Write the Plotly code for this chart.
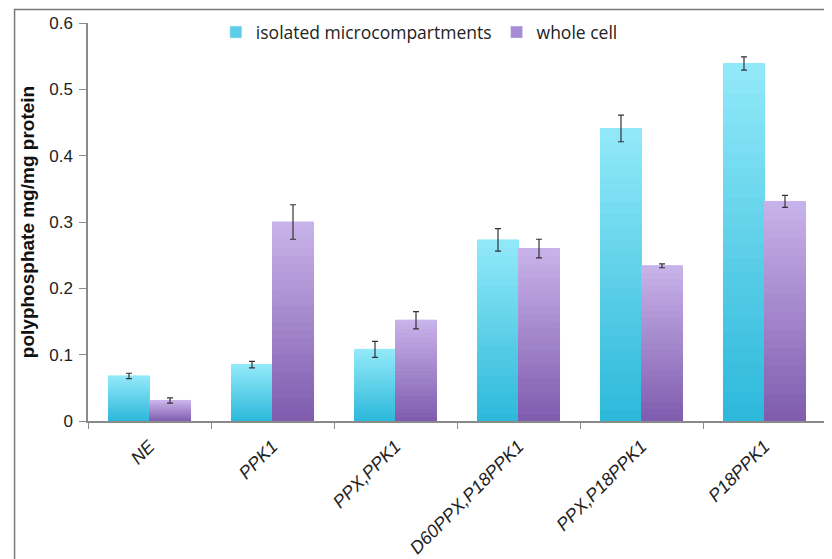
import plotly.graph_objects as go

categories = ["NE", "PPK1", "PPX,PPK1", "D60PPX,P18PPK1", "PPX,P18PPK1", "P18PPK1"]
isolated = [0.068, 0.085, 0.108, 0.273, 0.441, 0.539]
isolated_err = [0.004, 0.005, 0.012, 0.017, 0.020, 0.010]
whole = [0.031, 0.300, 0.152, 0.260, 0.234, 0.331]
whole_err = [0.004, 0.026, 0.013, 0.014, 0.003, 0.009]

series = [
    ("isolated microcompartments", isolated, isolated_err, (44, 184, 218), (146, 233, 249), "#5ccfe8"),
    ("whole cell", whole, whole_err, (126, 91, 174), (201, 179, 234), "#a98ad6"),
]

N = 24
fig = go.Figure()
for gi, (name, vals, errs, c_bot, c_top, legc) in enumerate(series):
    for i in range(N):
        t = (i + 0.5) / N
        col = "rgb(%d,%d,%d)" % tuple(round(c_bot[k] + (c_top[k] - c_bot[k]) * t) for k in range(3))
        fig.add_trace(go.Bar(
            x=categories,
            y=[v / N for v in vals],
            base=[v * i / N for v in vals],
            offsetgroup=str(gi),
            marker=dict(color=col, line=dict(width=1, color=col)),
            showlegend=False,
            hoverinfo="skip",
        ))
    fig.add_trace(go.Bar(
        x=categories, y=vals, offsetgroup=str(gi), name=name,
        marker=dict(color="rgba(0,0,0,0)", line=dict(width=0)),
        error_y=dict(type="data", array=errs, color="#333333", thickness=1.2, width=3),
        showlegend=False,
    ))
    fig.add_trace(go.Bar(x=[None], y=[None], name=name, marker=dict(color=legc), showlegend=True))

fig.update_layout(
    width=824, height=551,
    barmode="group", bargap=0.333, bargroupgap=0,
    paper_bgcolor="white", plot_bgcolor="white",
    margin=dict(l=80, r=6, t=15, b=138, autoexpand=False),
    font=dict(family="Liberation Sans, Arial, sans-serif", color="#222222"),
    legend=dict(orientation="h", x=0.449, xanchor="center", y=1.022, yanchor="top",
                font=dict(family="Open Sans, sans-serif", size=17.5, color="#222222"),
                itemwidth=30, tracegroupgap=0, bgcolor="rgba(0,0,0,0)"),
    showlegend=True,
)
fig.update_yaxes(range=[0, 0.6], tickvals=[0, 0.1, 0.2, 0.3, 0.4, 0.5, 0.6],
                 ticktext=["0", "0.1", "0.2", "0.3", "0.4", "0.5", "0.6"],
                 automargin=False,
                 showgrid=False, zeroline=False, showline=True, linecolor="#8a8a8a", linewidth=1.5,
                 ticks="outside", ticklen=7, tickcolor="#8a8a8a", ticklabelstandoff=3,
                 tickfont=dict(size=17, color="#222222"),
                 title=dict(text="<b>polyphosphate mg/mg protein</b>", font=dict(size=19, color="#111111"), standoff=10))
fig.update_xaxes(showgrid=False, showline=True, linecolor="#8a8a8a", linewidth=1.5,
                 automargin=False,
                 ticks="outside", tickson="boundaries", ticklen=6, tickcolor="#8a8a8a",
                 tickangle=-45, tickfont=dict(size=18, color="#222222"), ticklabelstandoff=6,
                 tickprefix="<i>", ticksuffix="</i>")
fig.add_shape(type="rect", xref="paper", yref="paper", x0=-0.0995, x1=1.3, y0=-0.6, y1=1.034,
              line=dict(color="#7a7a7a", width=1.5), fillcolor="rgba(0,0,0,0)", layer="below")
fig.write_html("out.html")
